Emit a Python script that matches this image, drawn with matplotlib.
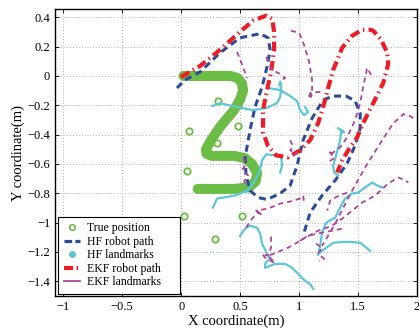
import matplotlib
matplotlib.use("Agg")
import matplotlib.pyplot as plt
from matplotlib.lines import Line2D

plt.rcParams['font.family'] = ['Liberation Serif', 'DejaVu Serif']
plt.rcParams['mathtext.fontset'] = 'stix'

# ---------------- data ----------------
true_path_x = [0.02, 0.25, 0.42, 0.48, 0.515, 0.525, 0.50, 0.448, 0.33, 0.253, 0.21, 0.215, 0.26, 0.45, 0.54, 0.60, 0.645, 0.63, 0.57, 0.45, 0.25, 0.14]
true_path_y = [0.0, 0.0, 0.0, -0.015, -0.05, -0.10, -0.16, -0.233, -0.347, -0.438, -0.50, -0.53, -0.545, -0.545, -0.56, -0.60, -0.66, -0.72, -0.76, -0.77, -0.77, -0.77]

true_pos_x = [0.315, 0.485, 0.069, 0.301, 0.049, 0.024, 0.514, 0.287]
true_pos_y = [-0.169, -0.341, -0.372, -0.459, -0.651, -0.957, -0.957, -1.110]

hf_path_x = [-0.036, 0.032, 0.160, 0.329, 0.499, 0.669, 0.737, 0.754, 0.728, 0.686, 0.626, 0.584, 0.542, 0.550, 0.584, 0.652, 0.728, 0.839, 0.924, 0.983, 1.034, 1.110, 1.204, 1.289, 1.399, 1.475, 1.518, 1.518, 1.475, 1.407, 1.306, 1.195, 1.093, 1.034]
hf_path_y = [-0.082, -0.027, 0.027, 0.158, 0.260, 0.288, 0.260, 0.178, 0.062, -0.075, -0.212, -0.370, -0.555, -0.678, -0.781, -0.829, -0.842, -0.801, -0.747, -0.610, -0.438, -0.288, -0.164, -0.137, -0.137, -0.171, -0.253, -0.356, -0.473, -0.596, -0.712, -0.815, -0.932, -1.089]

ekf_path_x = [-0.002, 0.160, 0.329, 0.499, 0.610, 0.720, 0.771, 0.788, 0.788, 0.762, 0.728, 0.694, 0.694, 0.737, 0.805, 0.906, 1.008, 1.093, 1.161, 1.204, 1.246, 1.289, 1.365, 1.450, 1.535, 1.603, 1.629, 1.696, 1.747, 1.756, 1.713, 1.629, 1.543, 1.492, 1.416, 1.365, 1.323]
ekf_path_y = [-0.007, 0.068, 0.178, 0.301, 0.377, 0.411, 0.390, 0.301, 0.178, 0.027, -0.096, -0.233, -0.384, -0.479, -0.541, -0.555, -0.507, -0.438, -0.322, -0.212, -0.082, 0.041, 0.192, 0.274, 0.315, 0.315, 0.308, 0.247, 0.158, 0.082, -0.048, -0.185, -0.322, -0.418, -0.507, -0.575, -0.658]

# HF landmark estimate trajectories
hf_lm_a_x = [0.263, 0.329, 0.474, 0.610, 0.720, 0.813, 0.839, 0.847, 0.839, 0.83, 0.85, 0.84]
hf_lm_a_y = [-0.205, -0.185, -0.212, -0.233, -0.219, -0.185, -0.144, -0.096, -0.048, -0.06, -0.055, -0.04]
hf_lm_b_x = [0.737, 0.839, 0.924, 0.983, 1.008, 1.042, 1.076, 1.051]
hf_lm_b_y = [-0.082, -0.096, -0.137, -0.171, -0.233, -0.267, -0.247, -0.212]
hf_lm_c_x = [0.270, 0.304, 0.457, 0.559, 0.610, 0.662, 0.686, 0.720, 0.796, 0.847, 0.856, 0.839]
hf_lm_c_y = [-0.897, -0.836, -0.815, -0.781, -0.733, -0.658, -0.575, -0.534, -0.541, -0.555, -0.610, -0.658]
hf_lm_d_x = [0.499, 0.542, 0.584, 0.643, 0.669, 0.686, 0.728, 0.754, 0.711, 0.711, 0.796, 0.881, 0.941, 0.992, 1.051, 1.093, 1.119]
hf_lm_d_y = [-1.089, -1.041, -1.021, -1.034, -1.075, -1.144, -1.212, -1.240, -1.281, -1.308, -1.281, -1.281, -1.308, -1.349, -1.397, -1.418, -1.452]
hf_lm_e_x = [1.331, 1.382, 1.357, 1.348, 1.314, 1.289, 1.297, 1.331]
hf_lm_e_y = [-0.356, -0.384, -0.370, -0.438, -0.541, -0.610, -0.658, -0.678]
hf_lm_f_x = [1.161, 1.178, 1.195, 1.229, 1.306, 1.348, 1.390, 1.450, 1.501, 1.560, 1.620, 1.662, 1.705]
hf_lm_f_y = [-1.219, -1.158, -1.068, -1.000, -0.966, -0.897, -0.836, -0.801, -0.795, -0.760, -0.726, -0.747, -0.760]
hf_lm_g_x = [1.161, 1.195, 1.289, 1.407, 1.518, 1.603]
hf_lm_g_y = [-1.212, -1.192, -1.137, -1.130, -1.137, -1.192]

# EKF landmark estimate trajectories
ekf_lm_1_x = [0.932, 1.000, 1.042, 1.085, 1.110, 1.110, 1.085, 1.119, 1.093, 1.144, 1.195]
ekf_lm_1_y = [0.308, 0.295, 0.212, 0.096, -0.027, -0.110, -0.137, -0.151, -0.116, -0.110, -0.110]
ekf_lm_2_x = [0.474, 0.508, 0.559]
ekf_lm_2_y = [0.164, 0.096, -0.014]
ekf_lm_3_x = [0.720, 0.771, 0.839, 0.881, 0.856]
ekf_lm_3_y = [0.130, 0.041, 0.014, -0.014, -0.027]
ekf_lm_4_x = [1.611, 1.577, 1.543, 1.518, 1.475, 1.407, 1.348, 1.280, 1.25, 1.30, 1.26]
ekf_lm_4_y = [0.007, 0.055, -0.075, -0.185, -0.301, -0.418, -0.486, -0.527, -0.51, -0.56, -0.58]
ekf_lm_5_x = [1.968, 1.943, 1.883, 1.858, 1.798, 1.688, 1.560, 1.441, 1.306, 1.195]
ekf_lm_5_y = [-0.288, -0.274, -0.260, -0.281, -0.322, -0.459, -0.623, -0.795, -1.007, -1.158]
ekf_lm_6_x = [1.008, 1.161, 1.280, 1.365, 1.450, 1.535, 1.645, 1.756, 1.841, 1.900, 1.926]
ekf_lm_6_y = [-1.123, -1.055, -1.021, -0.973, -0.918, -0.863, -0.815, -0.733, -0.692, -0.712, -0.726]
ekf_lm_7_x = [0.762, 0.762, 0.737, 0.686, 0.720, 0.796, 0.737, 0.822, 0.906, 0.966, 1.076, 1.195, 1.365]
ekf_lm_7_y = [-1.096, -1.171, -1.226, -1.212, -1.247, -1.274, -1.226, -1.199, -1.171, -1.144, -1.089, -1.068, -1.041]
ekf_lm_8_x = [0.525, 0.550, 0.516, 0.567, 0.533, 0.559]
ekf_lm_8_y = [-0.555, -0.596, -0.644, -0.678, -0.719, -0.753]
ekf_lm_9_x = [0.550, 0.601, 0.652, 0.686, 0.635, 0.737, 0.839, 0.924, 1.008, 1.034, 1.042]
ekf_lm_9_y = [-1.034, -0.973, -0.932, -0.945, -0.918, -0.904, -0.870, -0.856, -0.836, -0.815, -0.863]
ekf_lm_10_x = [0.924, 0.949, 0.924, 0.983, 0.941]
ekf_lm_10_y = [-0.438, -0.479, -0.507, -0.527, -0.541]
ekf_lm_11_x = [1.144, 1.195, 1.161, 1.212, 1.170]
ekf_lm_11_y = [-1.144, -1.171, -1.212, -1.247, -1.260]
ekf_lm_12_x = [1.407, 1.323, 1.263, 1.238]
ekf_lm_12_y = [-0.795, -0.822, -0.849, -0.918]

x_ticks = [-1, -0.5, 0, 0.5, 1, 1.5, 2]
x_tick_labels = ['\u22121', '\u22120.5', '0', '0.5', '1', '1.5', '2']
y_ticks = [-1.4, -1.2, -1.0, -0.8, -0.6, -0.4, -0.2, 0, 0.2, 0.4]
y_tick_labels = ['\u22121.4', '\u22121.2', '\u22121', '\u22120.8', '\u22120.6', '\u22120.4', '\u22120.2', '0', '0.2', '0.4']

legend_labels = ['True position', 'HF robot path', 'HF landmarks', 'EKF robot path', 'EKF landmarks']

# ---------------- style ----------------
GREEN = '#6cbd45'
BLUE = '#2d4b9c'
RED = '#ee1c25'
CYAN = '#5dc6da'
MAGENTA = '#b1439e'

fig = plt.figure(figsize=(4.19, 3.29), dpi=100)
ax = fig.add_axes([0.1313, 0.1003, 0.8640, 0.8717])

ax.plot(true_path_x, true_path_y, color=GREEN, lw=7.2, solid_capstyle='round', solid_joinstyle='round', zorder=1)
ax.plot(true_pos_x, true_pos_y, 'o', mfc='none', mec=GREEN, ms=4.6, mew=1.3, zorder=2)

hf_line, = ax.plot(hf_path_x, hf_path_y, color=BLUE, lw=2.2, zorder=3)
hf_line.set_dashes((2.3, 1.5))

for xs, ys in [(hf_lm_a_x, hf_lm_a_y), (hf_lm_b_x, hf_lm_b_y), (hf_lm_c_x, hf_lm_c_y),
               (hf_lm_d_x, hf_lm_d_y), (hf_lm_e_x, hf_lm_e_y), (hf_lm_f_x, hf_lm_f_y),
               (hf_lm_g_x, hf_lm_g_y)]:
    ax.plot(xs, ys, color=CYAN, lw=1.6, zorder=4, solid_joinstyle='round')

ekf_line, = ax.plot(ekf_path_x, ekf_path_y, color=RED, lw=3.0, zorder=5)
ekf_line.set_dashes((2.3, 1.0, 0.35, 1.0))

for xs, ys in [(ekf_lm_1_x, ekf_lm_1_y), (ekf_lm_2_x, ekf_lm_2_y), (ekf_lm_3_x, ekf_lm_3_y),
               (ekf_lm_4_x, ekf_lm_4_y), (ekf_lm_5_x, ekf_lm_5_y), (ekf_lm_6_x, ekf_lm_6_y),
               (ekf_lm_7_x, ekf_lm_7_y), (ekf_lm_8_x, ekf_lm_8_y), (ekf_lm_9_x, ekf_lm_9_y),
               (ekf_lm_10_x, ekf_lm_10_y), (ekf_lm_11_x, ekf_lm_11_y), (ekf_lm_12_x, ekf_lm_12_y)]:
    l, = ax.plot(xs, ys, color=MAGENTA, lw=1.3, zorder=6)
    l.set_dashes((2.8, 2.2))

ax.set_xlim(-1.07, 2.0)
ax.set_ylim(-1.5, 0.455)
ax.set_xticks(x_ticks)
ax.set_xticklabels(x_tick_labels)
ax.set_yticks(y_ticks)
ax.set_yticklabels(y_tick_labels)
ax.tick_params(direction='in', top=True, right=True, length=3, width=0.6, labelsize=9, pad=3.5)
ax.grid(True, linestyle=(0, (1, 2.5)), color='#9a9a9a', lw=0.6)
ax.set_axisbelow(True)
for s in ax.spines.values():
    s.set_linewidth(1.0)

ax.set_xlabel('X coordinate(m)', fontsize=10.5, labelpad=1)
ax.set_ylabel('Y coordinate(m)', fontsize=10.5, labelpad=2)

h0 = Line2D([], [], ls='none', marker='o', mfc='none', mec=GREEN, ms=4, mew=1.2)
h1 = Line2D([], [], color=BLUE, lw=2.3, dashes=(2.4, 1.0))
h2 = Line2D([], [], ls='none', marker='o', color=CYAN, ms=4)
h3 = Line2D([], [], color=RED, lw=3.0, dashes=(2.2, 0.8, 0.4, 0.8))
h4 = Line2D([], [], color=MAGENTA, lw=1.3)
leg = ax.legend([h0, h1, h2, h3, h4], legend_labels, loc='lower left',
                bbox_to_anchor=(0.008, 0.007, 0.337, 0.2), mode='expand',
                borderaxespad=0, fontsize=8.5,
                fancybox=False, framealpha=1, edgecolor='black',
                handlelength=1.4, handletextpad=0.6, labelspacing=0.12, borderpad=0.5)
leg.get_frame().set_linewidth(0.8)

fig.savefig('out.png', dpi=100)
